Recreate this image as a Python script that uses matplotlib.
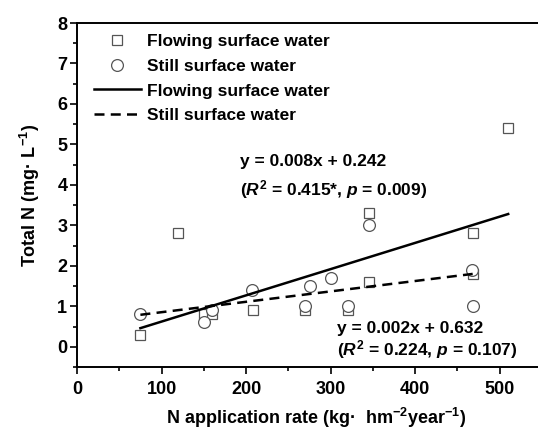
import matplotlib
matplotlib.use("Agg")
import matplotlib.pyplot as plt
from matplotlib.lines import Line2D

plt.rcParams['font.family'] = ['Liberation Sans', 'DejaVu Sans']
plt.rcParams['font.weight'] = 'bold'
plt.rcParams['mathtext.fontset'] = 'custom'
plt.rcParams['mathtext.rm'] = 'Liberation Sans:bold'
plt.rcParams['mathtext.it'] = 'Liberation Sans:bold:italic'
plt.rcParams['mathtext.bf'] = 'Liberation Sans:bold'
plt.rcParams['mathtext.default'] = 'rm'

# Data
flow_x = [75, 120, 150, 160, 208, 270, 320, 345, 345, 468, 468, 510]
flow_y = [0.3, 2.8, 0.8, 0.8, 0.9, 0.9, 0.9, 3.3, 1.6, 2.8, 1.8, 5.4]
still_x = [75, 150, 160, 207, 270, 275, 300, 320, 345, 467, 468]
still_y = [0.8, 0.6, 0.9, 1.4, 1.0, 1.5, 1.7, 1.0, 3.0, 1.9, 1.0]
flow_fit_x = [75, 510]
flow_fit_y = [0.46, 3.28]
still_fit_x = [75, 468]
still_fit_y = [0.79, 1.80]

W, H = 538, 438
fig = plt.figure(figsize=(W/100, H/100), dpi=100)
x0, x1 = 77, 542
y_top, y_bot = 23, 367
ax = fig.add_axes([x0/W, 1-y_bot/H, (x1-x0)/W, (y_bot-y_top)/H])

mec = '#555555'
ax.plot(flow_x, flow_y, ls='none', marker='s', ms=7.5, mfc='white', mec=mec, mew=0.9, zorder=3)
ax.plot(still_x, still_y, ls='none', marker='o', ms=8.5, mfc='white', mec=mec, mew=0.9, zorder=3)
ax.plot(flow_fit_x, flow_fit_y, color='black', lw=1.8, zorder=4)
ax.plot(still_fit_x, still_fit_y, color='black', lw=1.8, ls=(0, (4, 2.5)), zorder=4)

ax.set_xlim(0, 550)
ax.set_ylim(-0.5, 8)
ax.set_xticks([0, 100, 200, 300, 400, 500])
ax.set_xticks(range(50, 550, 100), minor=True)
ax.set_yticks(range(0, 9))
ax.set_yticks([i + 0.5 for i in range(-1, 8)], minor=True)
ax.tick_params(which='major', direction='out', length=5, width=1.2, labelsize=13)
ax.tick_params(axis='x', which='major', pad=5)
ax.tick_params(axis='y', which='major', pad=2)
ax.tick_params(which='minor', direction='out', length=3, width=1.2)
for lab in ax.get_xticklabels() + ax.get_yticklabels():
    lab.set_fontweight('bold')
for s in ax.spines.values():
    s.set_linewidth(1.4)

fig.text(30/W, 1-195/H, 'Total N (mg· L$^{-1}$)', rotation=90, ha='center', va='center', fontsize=13, fontweight='bold')
fig.text(316/W, 1-418/H, 'N application rate (kg·  hm$^{-2}$year$^{-1}$)', ha='center', va='center', fontsize=13, fontweight='bold')

fs = 12.5
fig.text(240/W, 1-162/H, 'y = 0.008x + 0.242', ha='left', va='center', fontsize=fs, fontweight='bold')
fig.text(240/W, 1-190/H, '($\\mathit{R}^2$ = 0.415*, $\\mathit{p}$ = 0.009)', ha='left', va='center', fontsize=fs, fontweight='bold')
fig.text(337/W, 1-328/H, 'y = 0.002x + 0.632', ha='left', va='center', fontsize=fs, fontweight='bold')
fig.text(337/W, 1-350/H, '($\\mathit{R}^2$ = 0.224, $\\mathit{p}$ = 0.107)', ha='left', va='center', fontsize=fs, fontweight='bold')

handles = [
    Line2D([], [], ls='none', marker='s', ms=7.5, mfc='white', mec=mec, mew=0.9),
    Line2D([], [], ls='none', marker='o', ms=8.5, mfc='white', mec=mec, mew=0.9),
    Line2D([], [], color='black', lw=1.8),
    Line2D([], [], color='black', lw=1.8, ls=(0, (4, 2.5))),
]
labels = ['Flowing surface water', 'Still surface water', 'Flowing surface water', 'Still surface water']
leg = ax.legend(handles, labels, loc='upper left', bbox_to_anchor=(94/W, 1-34/H),
                bbox_transform=fig.transFigure, frameon=False,
                handlelength=2.7, handletextpad=0.35, labelspacing=0.55,
                borderpad=0, borderaxespad=0, prop={'weight': 'bold', 'size': fs})

fig.savefig('out.png', dpi=100)
